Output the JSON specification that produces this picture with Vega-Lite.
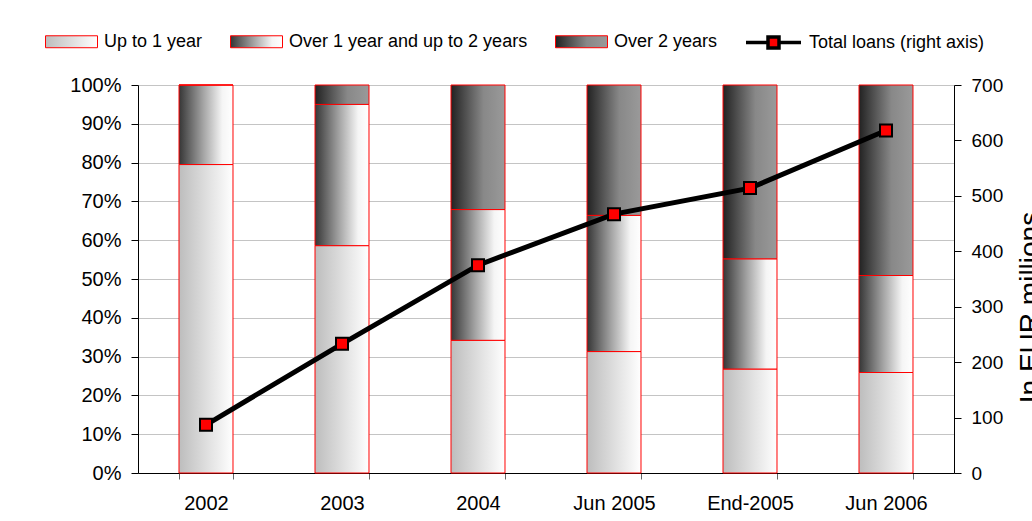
{
  "$schema": "https://vega.github.io/schema/vega-lite/v6.json",
  "autosize": {"type": "none"},
  "width": 816,
  "height": 388,
  "padding": {"left": 138, "top": 85, "right": 78, "bottom": 48},
  "background": "white",
  "params": [
    {"name": "gradShort", "value": {"gradient": "linear", "x1": 0, "y1": 0, "x2": 1, "y2": 0, "stops": [{"offset": 0, "color": "#bdbdbd"}, {"offset": 1, "color": "#ffffff"}]}},
    {"name": "gradMid", "value": {"gradient": "linear", "x1": 0, "y1": 0, "x2": 1, "y2": 0, "stops": [{"offset": 0, "color": "#363636"}, {"offset": 0.45, "color": "#a4a4a4"}, {"offset": 0.8, "color": "#f5f5f5"}, {"offset": 1, "color": "#ffffff"}]}},
    {"name": "gradLong", "value": {"gradient": "linear", "x1": 0, "y1": 0, "x2": 1, "y2": 0, "stops": [{"offset": 0, "color": "#222222"}, {"offset": 0.6, "color": "#888888"}, {"offset": 1, "color": "#9a9a9a"}]}}
  ],
  "config": {
    "font": "Liberation Sans",
    "view": {"stroke": null},
    "axis": {
      "labelFont": "Liberation Sans",
      "labelColor": "black",
      "titleFont": "Liberation Sans",
      "titleColor": "black",
      "titleFontWeight": "normal"
    },
    "legend": {
      "labelFont": "Liberation Sans",
      "labelFontSize": 18,
      "labelColor": "black",
      "labelOffset": 6,
      "labelLimit": 0,
      "columnPadding": 25,
      "direction": "horizontal",
      "orient": "none",
      "title": null
    }
  },
  "datasets": {
    "shares": [
      {"period": "2002", "maturity": "Up to 1 year", "share": 79.5},
      {"period": "2002", "maturity": "Over 1 year and up to 2 years", "share": 20.5},
      {"period": "2002", "maturity": "Over 2 years", "share": 0},
      {"period": "2003", "maturity": "Up to 1 year", "share": 58.6},
      {"period": "2003", "maturity": "Over 1 year and up to 2 years", "share": 36.4},
      {"period": "2003", "maturity": "Over 2 years", "share": 5.0},
      {"period": "2004", "maturity": "Up to 1 year", "share": 34.2},
      {"period": "2004", "maturity": "Over 1 year and up to 2 years", "share": 33.7},
      {"period": "2004", "maturity": "Over 2 years", "share": 32.1},
      {"period": "Jun 2005", "maturity": "Up to 1 year", "share": 31.3},
      {"period": "Jun 2005", "maturity": "Over 1 year and up to 2 years", "share": 35.1},
      {"period": "Jun 2005", "maturity": "Over 2 years", "share": 33.6},
      {"period": "End-2005", "maturity": "Up to 1 year", "share": 26.8},
      {"period": "End-2005", "maturity": "Over 1 year and up to 2 years", "share": 28.4},
      {"period": "End-2005", "maturity": "Over 2 years", "share": 44.8},
      {"period": "Jun 2006", "maturity": "Up to 1 year", "share": 25.9},
      {"period": "Jun 2006", "maturity": "Over 1 year and up to 2 years", "share": 25.0},
      {"period": "Jun 2006", "maturity": "Over 2 years", "share": 49.1}
    ],
    "totals": [
      {"period": "2002", "total": 87},
      {"period": "2003", "total": 233},
      {"period": "2004", "total": 375},
      {"period": "Jun 2005", "total": 467},
      {"period": "End-2005", "total": 514},
      {"period": "Jun 2006", "total": 618}
    ]
  },
  "encoding": {
    "x": {
      "field": "period",
      "type": "nominal",
      "sort": ["2002", "2003", "2004", "Jun 2005", "End-2005", "Jun 2006"],
      "scale": {"paddingInner": 0.603, "paddingOuter": 0.3015},
      "axis": {
        "title": null,
        "labelAngle": 0,
        "labelFontSize": 20,
        "labelPadding": 14,
        "tickBand": "extent",
        "tickSize": 6,
        "tickColor": "#666666",
        "domainColor": "black",
        "grid": false
      }
    }
  },
  "layer": [
    {
      "data": {"name": "shares"},
      "transform": [
        {"calculate": "indexof(['Up to 1 year', 'Over 1 year and up to 2 years', 'Over 2 years'], datum.maturity)", "as": "stackOrder"}
      ],
      "mark": {"type": "bar", "stroke": "red", "strokeWidth": 1},
      "encoding": {
        "y": {
          "field": "share",
          "type": "quantitative",
          "stack": "normalize",
          "axis": {
            "title": null,
            "values": [0, 0.1, 0.2, 0.3, 0.4, 0.5, 0.6, 0.7, 0.8, 0.9, 1],
            "format": ".0%",
            "labelFontSize": 20,
            "labelPadding": 10,
            "tickSize": 7,
            "tickColor": "black",
            "domainColor": "black",
            "grid": true,
            "gridColor": "#c4c4c4"
          }
        },
        "order": {"field": "stackOrder", "type": "quantitative", "sort": "ascending"},
        "fill": {
          "field": "maturity",
          "type": "nominal",
          "sort": ["Up to 1 year", "Over 1 year and up to 2 years", "Over 2 years"],
          "scale": {
            "domain": ["Up to 1 year", "Over 1 year and up to 2 years", "Over 2 years"],
            "range": [{"expr": "gradShort"}, {"expr": "gradMid"}, {"expr": "gradLong"}]
          },
          "legend": {
            "legendX": -93,
            "legendY": -70,
            "symbolType": "M-1,-0.23L1,-0.23L1,0.23L-1,0.23Z",
            "symbolSize": 2704,
            "symbolStrokeColor": "red",
            "symbolStrokeWidth": 1,
            "encode": {"symbols": {"update": {
              "stroke": {"value": "red"},
              "strokeWidth": {"value": 1},
              "opacity": {"value": 1}
            }}}
          }
        }
      }
    },
    {
      "data": {"name": "totals"},
      "mark": {"type": "line", "strokeWidth": 5},
      "encoding": {
        "y": {
          "field": "total",
          "type": "quantitative",
          "scale": {"domain": [0, 700], "nice": false},
          "axis": {
            "orient": "right",
            "values": [0, 100, 200, 300, 400, 500, 600, 700],
            "labelFontSize": 19,
            "labelPadding": 10,
            "tickSize": 7,
            "tickColor": "black",
            "domainColor": "black",
            "grid": false,
            "title": "In EUR millions",
            "titleFontSize": 28,
            "titleAngle": 270,
            "titleAlign": "center",
            "titleBaseline": "alphabetic",
            "titleX": 84,
            "titleY": 222
          }
        },
        "stroke": {
          "datum": "Total loans (right axis)",
          "type": "nominal",
          "scale": {"range": ["black"]},
          "legend": {
            "legendX": 606,
            "legendY": -72,
            "symbolType": "M-1,0L-0.2,0M0.2,0L1,0M-0.2,-0.2L0.2,-0.2L0.2,0.2L-0.2,0.2Z",
            "symbolSize": 3025,
            "symbolStrokeWidth": 3.5,
            "encode": {"symbols": {"update": {"fill": {"value": "red"}, "stroke": {"value": "black"}, "strokeWidth": {"value": 3.5}, "opacity": {"value": 1}}}}
          }
        }
      }
    },
    {
      "data": {"name": "totals"},
      "mark": {"type": "point", "shape": "square", "size": 144, "filled": true, "fill": "red", "stroke": "black", "strokeWidth": 2, "opacity": 1},
      "encoding": {
        "y": {"field": "total", "type": "quantitative", "scale": {"domain": [0, 700], "nice": false}, "axis": null}
      }
    }
  ],
  "resolve": {"scale": {"y": "independent"}}
}
